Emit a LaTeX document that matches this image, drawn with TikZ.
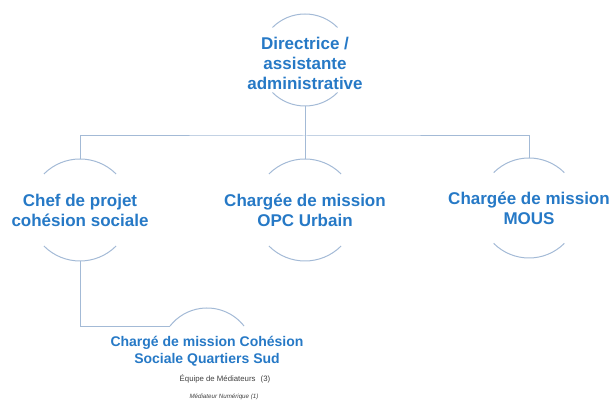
\documentclass[tikz,border=0pt]{standalone}
\usepackage{fontspec}
\setmainfont{Liberation Sans}
\usetikzlibrary{positioning, calc}
\definecolor{roleblue}{RGB}{38,121,198}
\definecolor{ringgray}{RGB}{163,186,214}
\definecolor{staffgray}{RGB}{64,64,64}
\newcommand{\ringarcs}[2]{%
  \draw[ring line] (#1.45) arc[start angle=45, end angle=135, radius=#2];
  \draw[ring line] (#1.225) arc[start angle=225, end angle=315, radius=#2];}

\tikzset{
  ring/.style={circle, minimum size=2*#1, inner sep=0pt, outer sep=0pt},
  ring line/.style={draw=ringgray, line width=1pt},
  link/.style={draw=ringgray, line width=1pt},
  role/.style={text=roleblue, font=\bfseries\fontsize{17}{20}\selectfont, align=center, inner sep=0pt},
  staff/.style={text=staffgray, font=\fontsize{7.8}{9}\selectfont, inner sep=0pt},
}

\begin{document}
\begin{tikzpicture}[x=1pt, y=1pt]
    \useasboundingbox (0,0) rectangle (613,403);

    %Rings
    \node[ring=46pt] (dirring) at (305,343) {};
    \node[ring=51pt] (chefring) at (80,193) {};
    \node[ring=51pt] (opcring) at (305,193) {};
    \node[ring=50pt] (mousring) at (529,195) {};
    \node[ring=47pt] (cqsring) at (207,48) {};

    \ringarcs{dirring}{46pt}
    \ringarcs{chefring}{51pt}
    \ringarcs{opcring}{51pt}
    \ringarcs{mousring}{50pt}
    \draw[ring line] (cqsring.38) arc[start angle=38, end angle=142, radius=47pt];

    %Titles
    \node[role] (dir) at ($(dirring)+(0,-3)$) {Directrice /\\assistante\\administrative};
    \node[role] (chef) at (chefring) {Chef de projet\\cohésion sociale};
    \node[role] (opc) at (opcring) {Chargée de mission\\OPC Urbain};
    \node[role] (mous) at (mousring) {Chargée de mission\\MOUS};
    \node[role, font=\bfseries\fontsize{14}{17}\selectfont] (cqs) at ($(cqsring)+(0,4)$) {Chargé de mission Cohésion\\Sociale Quartiers Sud};
    \node[staff] (equipe) at (225,24) {Équipe de Médiateurs\hspace{3pt} (3)};
    \node[staff, font=\itshape\fontsize{6.2}{8}\selectfont] (numerique) at (224,6) {Médiateur Numérique (1)};

    %Lines
    \coordinate (bus) at (305,267);
    \draw[link] (dirring.south) -- (opcring.north);
    \draw[link] (chefring.north) |- (bus) -| (mousring.north);
    \draw[link] (chefring.south) |- (cqsring.142);
\end{tikzpicture}
\end{document}
